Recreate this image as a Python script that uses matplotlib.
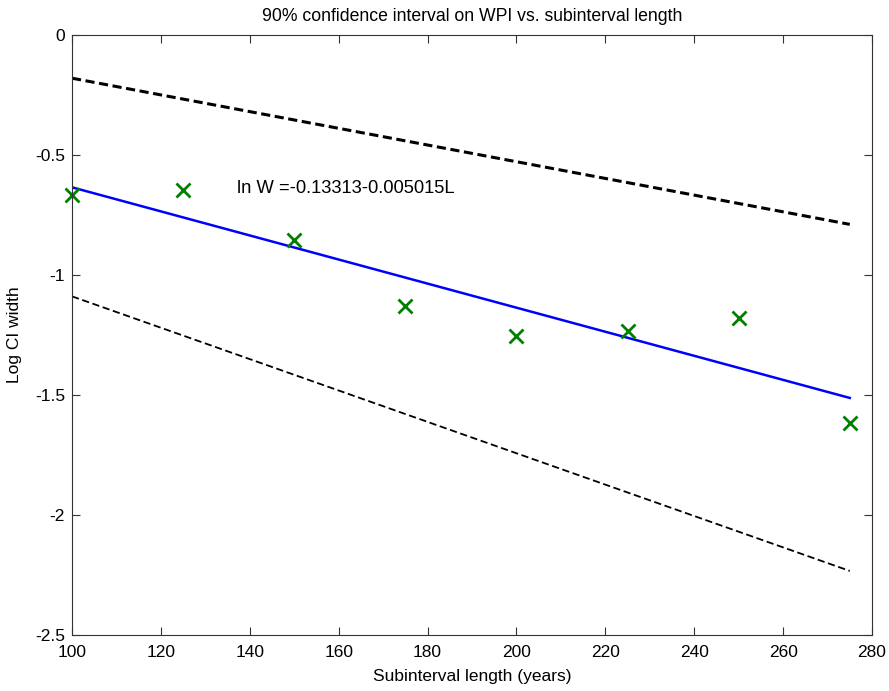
import numpy as np
import matplotlib.pyplot as plt
import matplotlib as mpl

mpl.rcParams['font.family'] = ['Liberation Sans', 'DejaVu Sans']
mpl.rcParams['font.size'] = 12.5

# subinterval lengths and log CI widths
L = [100, 125, 150, 175, 200, 225, 250, 275]
logw = [-0.668, -0.647, -0.856, -1.131, -1.256, -1.235, -1.181, -1.615]

# fitted line coefficients
a = -0.13313
b = -0.005015

# confidence bounds (end points)
band_L = [100, 275]
upper = [-0.18, -0.789]
lower = [-1.089, -2.233]

fig = plt.figure(figsize=(8.89, 6.91), dpi=100)
ax = fig.add_axes([72 / 889, 56 / 691, 800 / 889, 600 / 691])

fit = [a + b * x for x in band_L]
ax.plot(band_L, fit, color='blue', lw=1.8)
ax.plot(band_L, upper, color='black', lw=2.2, ls=(0, (3, 1.5)))
ax.plot(band_L, lower, color='black', lw=1.3, ls=(0, (4, 2)))
ax.plot(L, logw, 'x', color='green', ms=10, mew=2, clip_on=False)

ax.text(137.1, -0.638, 'ln W =-0.13313-0.005015L', fontsize=13.2, va='center')

ax.set_xlim(100, 280)
ax.set_ylim(-2.5, 0)
ax.set_xticks(np.arange(100, 281, 20))
ax.set_yticks([-2.5, -2, -1.5, -1, -0.5, 0])
ax.set_yticklabels(['-2.5', '-2', '-1.5', '-1', '-0.5', '0'])
ax.tick_params(direction='in', top=True, right=True, length=6, color='#333333')
ax.tick_params(axis='x', pad=7)
ax.tick_params(axis='y', pad=5)
for s in ax.spines.values():
    s.set_color('#333333')
ax.set_title('90% confidence interval on WPI vs. subinterval length', fontsize=12.7, pad=10)
ax.set_xlabel('Subinterval length (years)', labelpad=7)
ax.set_ylabel('Log CI width', labelpad=9)

plt.savefig('out.png')
